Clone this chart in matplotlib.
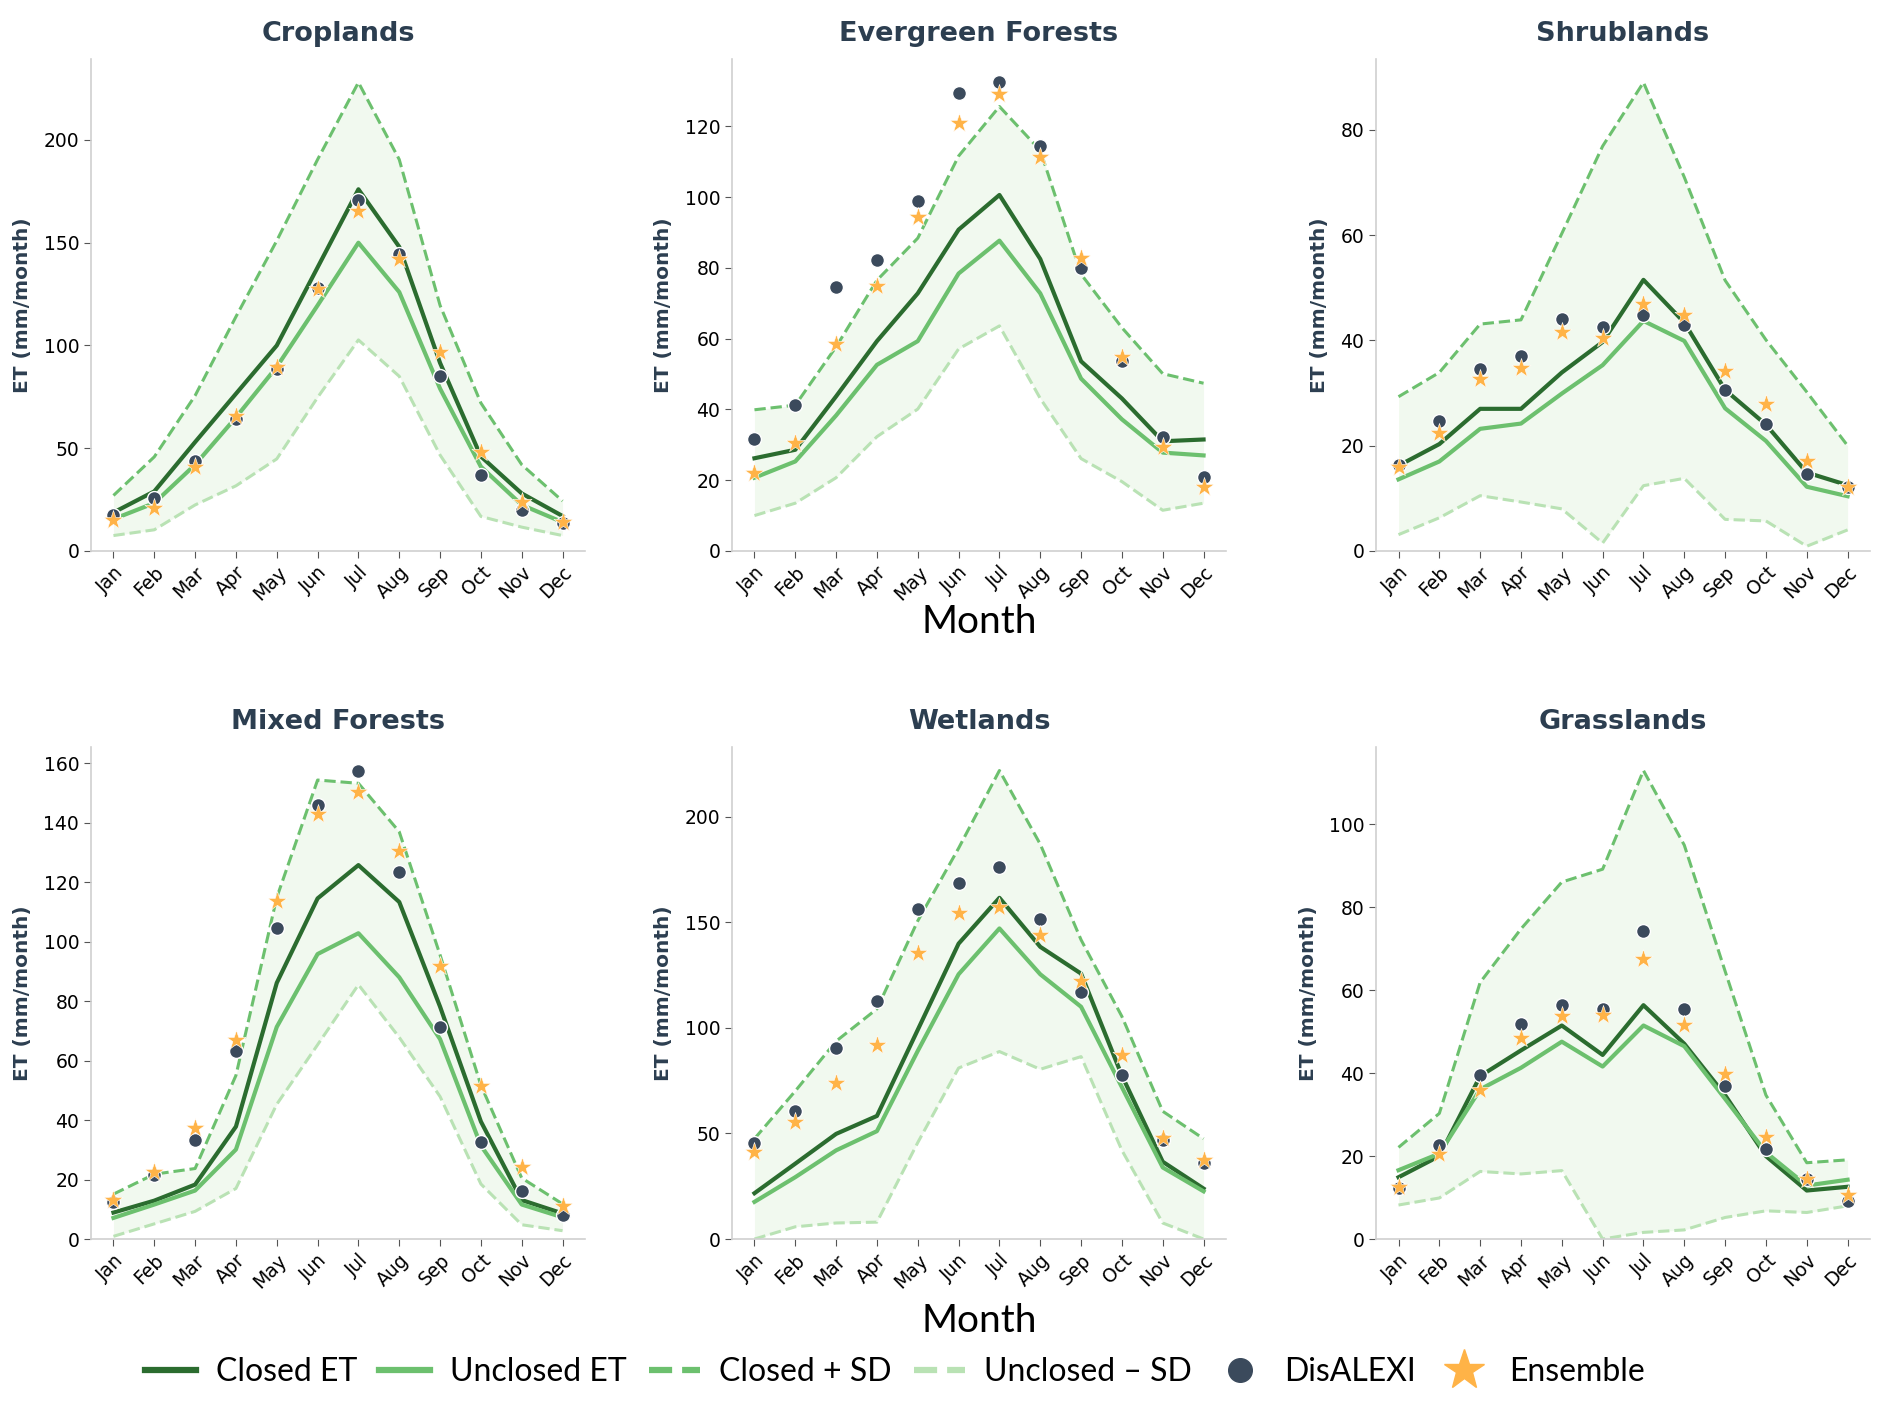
import numpy as np
import matplotlib
matplotlib.use("Agg")
import matplotlib.pyplot as plt
from matplotlib.lines import Line2D

months = ['Jan', 'Feb', 'Mar', 'Apr', 'May', 'Jun',
          'Jul', 'Aug', 'Sep', 'Oct', 'Nov', 'Dec']

# Croplands
crop_closed = [18.7, 29, 53, 76.5, 100, 138, 176, 148, 91.5, 46, 28, 17]
crop_unclosed = [15.5, 23.3, 42, 65, 89.6, 119.5, 150, 126, 79, 41, 22.4, 14]
crop_upper = [27, 45.8, 75.6, 114, 151, 190.5, 228, 190.5, 119.5, 72, 42, 24.3]
crop_lower = [7.5, 10.3, 22.4, 31.7, 44.8, 74.7, 102.7, 85, 46.7, 16.8, 11.6, 7.5]
crop_disalexi = [17.7, 25.6, 43.9, 64, 88.7, 128, 171, 144.7, 85, 37, 20, 13.4]
crop_ensemble = [15, 21, 40.7, 65.7, 89.6, 127.5, 165.6, 142.3, 96.7, 48, 23.7, 14]

# Evergreen Forests
ever_closed = [26.2, 28.6, 43.7, 59.3, 72.8, 90.8, 100.6, 82.5, 53.6, 43.1, 31, 31.5]
ever_unclosed = [20.7, 25.3, 38.3, 52.6, 59.3, 78.4, 87.7, 72.8, 48.7, 37.2, 27.8, 27]
ever_upper = [39.9, 41.2, 57.7, 76.5, 88.4, 111.6, 125.6, 113.2, 78.2, 63.1, 50.1, 47.4]
ever_lower = [10, 13.5, 20.7, 32.3, 40.1, 57.1, 63.6, 43.1, 26.1, 19.6, 11.5, 13.5]
ever_disalexi = [31.5, 41.2, 74.5, 82.2, 99, 129.4, 132.4, 114.3, 80.1, 53.6, 32.3, 21]
ever_ensemble = [21.9, 30.4, 58.4, 74.9, 94.3, 120.8, 129, 111.4, 82.8, 54.8, 29.4, 18]

# Shrublands
shrub_closed = [16.2, 20.3, 27, 27, 33.9, 39.7, 51.5, 43.4, 30.6, 24, 14.9, 12.5]
shrub_unclosed = [13.6, 17, 23.2, 24.2, 29.9, 35.3, 43.7, 39.9, 27.1, 20.9, 12.2, 10.4]
shrub_upper = [29.3, 33.9, 43.1, 43.9, 60.3, 76.9, 89, 71, 51.4, 40.1, 30.2, 20]
shrub_lower = [3.1, 6.3, 10.5, 9.3, 8, 1.5, 12.4, 13.8, 6, 5.7, 0.9, 4]
shrub_disalexi = [16.4, 24.6, 34.6, 37, 44.1, 42.5, 44.8, 42.9, 30.5, 24.2, 14.6, 12.2]
shrub_ensemble = [15.9, 22.4, 32.6, 34.8, 41.5, 40.4, 47, 44.8, 34.2, 28, 17.1, 12.2]

# Mixed Forests
mixed_closed = [8.9, 12.9, 18.3, 37.8, 86.1, 114.5, 125.7, 113.3, 78.1, 39.5, 13.1, 8.6]
mixed_unclosed = [7.1, 11.6, 16.3, 30.1, 71.3, 95.8, 102.8, 88, 67.2, 31.4, 11.6, 7.3]
mixed_upper = [15.1, 21.8, 23.7, 55, 114.8, 154.3, 153.2, 136.9, 95.5, 51.7, 20.5, 11.8]
mixed_lower = [0.9, 5.1, 9.3, 17, 45.3, 65.3, 85.5, 67.8, 47.9, 18.5, 4.8, 2.8]
mixed_disalexi = [12.5, 21.5, 33.3, 63.1, 104.5, 145.9, 157.5, 123.4, 71.3, 32.7, 16, 8.2]
mixed_ensemble = [13.1, 22.4, 37.2, 66.8, 113.8, 142.9, 150.2, 130.5, 91.9, 51.5, 24.1, 11.2]

# Wetlands
wet_closed = [21.7, 35.7, 49.8, 58.3, 99.1, 139.9, 161.6, 138.4, 125.7, 77.4, 36.6, 23.9]
wet_unclosed = [17.6, 29.3, 42, 51.1, 89.1, 125.4, 147.1, 125.4, 110, 71.9, 33.9, 22.6]
wet_upper = [47.5, 70.1, 93.7, 109, 150.7, 185.1, 221.9, 187, 141.7, 105.4, 60.5, 47.5]
wet_lower = [0, 5.8, 7.6, 8, 45.7, 81, 88.8, 80.4, 86.4, 42, 7.6, 0]
wet_disalexi = [45.7, 60.5, 90.6, 112.7, 156.5, 168.8, 176.1, 151.4, 117.2, 77.7, 46.9, 36.2]
wet_ensemble = [41.1, 55.6, 73.7, 91.8, 135.7, 154.3, 157.4, 143.8, 122.3, 87, 47.8, 37.5]

# Grasslands
grass_closed = [14.9, 20, 39.3, 45.5, 51.5, 44.4, 56.4, 47.1, 34.7, 20, 11.7, 12.6]
grass_unclosed = [16.6, 20.6, 36.1, 41.3, 47.6, 41.6, 51.5, 46.5, 33.8, 20.9, 12.9, 14.3]
grass_upper = [22.1, 30.3, 61.9, 74.8, 86.1, 89.2, 113, 95, 64.6, 34.7, 18.4, 19.1]
grass_lower = [8.2, 9.9, 16.3, 15.7, 16.5, 0, 1.6, 2.2, 5.2, 6.8, 6.4, 8]
grass_disalexi = [12.2, 22.6, 39.5, 51.9, 56.4, 55.4, 74.4, 55.6, 37, 21.6, 14.5, 9.2]
grass_ensemble = [12.6, 20.4, 35.9, 48.5, 53.9, 54, 67.6, 51.7, 39.8, 24.6, 14.5, 10.5]

panels = [
    ('Croplands', crop_closed, crop_unclosed, crop_upper, crop_lower, crop_disalexi, crop_ensemble),
    ('Evergreen Forests', ever_closed, ever_unclosed, ever_upper, ever_lower, ever_disalexi, ever_ensemble),
    ('Shrublands', shrub_closed, shrub_unclosed, shrub_upper, shrub_lower, shrub_disalexi, shrub_ensemble),
    ('Mixed Forests', mixed_closed, mixed_unclosed, mixed_upper, mixed_lower, mixed_disalexi, mixed_ensemble),
    ('Wetlands', wet_closed, wet_unclosed, wet_upper, wet_lower, wet_disalexi, wet_ensemble),
    ('Grasslands', grass_closed, grass_unclosed, grass_upper, grass_lower, grass_disalexi, grass_ensemble),
]

dark_green = '#2b6c2f'
mid_green = '#6cc06e'
light_green = '#b9e2b4'
fill_color = '#e5f5e0'
navy = '#2c3e50'
dot_color = '#3b4a5c'
star_color = '#ffb347'
narrow = ['Lato', 'DejaVu Sans']

fig = plt.figure(figsize=(18.92, 14.12), dpi=100)

lefts = [0.0481, 0.3869, 0.7273]
bottoms = [0.6098, 0.1225]
w, h = 0.2611, 0.3484

x = np.arange(len(months))
for i, (title, closed, unclosed, upper, lower, dis, ens) in enumerate(panels):
    ax = fig.add_axes([lefts[i % 3], bottoms[i // 3], w, h])
    ax.fill_between(x, lower, upper, color=fill_color, alpha=0.5, lw=0, zorder=1)
    ax.plot(x, upper, '--', color=mid_green, lw=2.2, zorder=2)
    ax.plot(x, lower, '--', color=light_green, lw=2.2, zorder=2)
    ax.plot(x, closed, '-', color=dark_green, lw=3, zorder=3)
    ax.plot(x, unclosed, '-', color=mid_green, lw=3, zorder=3)
    ax.scatter(x, dis, s=100, color=dot_color, edgecolor='white', linewidth=1, zorder=4)
    ax.scatter(x, ens, s=210, marker='*', color=star_color, edgecolor='white',
               linewidth=0.4, zorder=5)

    top = max(max(upper), max(dis), max(ens)) * 1.05
    ax.set_ylim(0, top)
    ax.set_xlim(-0.55, 11.55)
    ax.set_xticks(x)
    ax.set_xticklabels(months, rotation=45, ha='right', rotation_mode='anchor', fontsize=13.5)
    ax.tick_params(axis='y', labelsize=13.5)
    ax.tick_params(length=5, color='#555555')
    ax.set_title(title, fontsize=19.5, fontweight='bold', color=navy, pad=13)
    ax.set_ylabel('ET (mm/month)', fontsize=14.5, fontweight='bold', color=navy, labelpad=8)
    for side in ['top', 'right']:
        ax.spines[side].set_visible(False)
    for side in ['left', 'bottom']:
        ax.spines[side].set_color('#d0d0d0')
        ax.spines[side].set_linewidth(1.2)
    if i % 3 == 1:
        ax.set_xlabel('Month', fontsize=28, family=narrow, labelpad=0 if i < 3 else 8)

handles = [
    Line2D([0], [0], color=dark_green, lw=4.5),
    Line2D([0], [0], color=mid_green, lw=4.5),
    Line2D([0], [0], color=mid_green, lw=4.5, ls='--'),
    Line2D([0], [0], color=light_green, lw=4.5, ls='--'),
    Line2D([0], [0], color=dot_color, marker='o', ls='', markersize=17),
    Line2D([0], [0], color=star_color, marker='*', ls='', markersize=30),
]
labels = ['Closed ET', 'Unclosed ET', 'Closed + SD', 'Unclosed – SD', 'DisALEXI', 'Ensemble']
fig.legend(handles, labels, loc='center', bbox_to_anchor=(0.473, 0.028), ncol=6,
           frameon=False, prop={'family': narrow, 'size': 23},
           handlelength=1.6, handletextpad=0.6, columnspacing=0.7)

fig.savefig('out.png', dpi=100)
